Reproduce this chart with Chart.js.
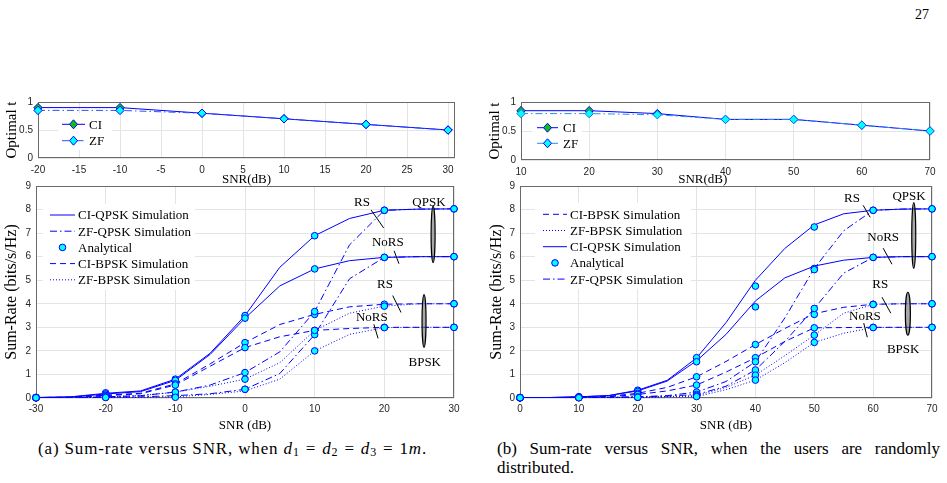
<!DOCTYPE html>
<html>
<head>
<meta charset="utf-8">
<script src="https://cdn.jsdelivr.net/npm/chart.js@4.4.1/dist/chart.umd.min.js"></script>
<style>
  html, body { margin: 0; padding: 0; background: #fff; }
  body { width: 947px; height: 483px; position: relative; overflow: hidden;
         font-family: "Liberation Serif", "Times New Roman", serif; color: #000; }
  canvas { position: absolute; }
  .txt { position: absolute; font-size: 17px; line-height: 19px; white-space: nowrap; }
  .eq { margin: 0 6px; }
  .sb { font-size: 12px; vertical-align: -2px; }
</style>
</head>
<body>
<div class="txt" style="left:915px; top:5px; font-size:14px;">27</div>

<canvas id="topA" width="470" height="100" style="left:0px; top:90px; width:470px; height:100px;"></canvas>
<canvas id="topB" width="467" height="100" style="left:480px; top:90px; width:467px; height:100px;"></canvas>
<canvas id="botA" width="470" height="262" style="left:0px; top:175px; width:470px; height:262px;"></canvas>
<canvas id="botB" width="467" height="262" style="left:480px; top:175px; width:467px; height:262px;"></canvas>

<div class="txt" style="left:38px; top:439px; letter-spacing:0.85px;">(a) Sum-rate versus SNR, when <i>d</i><span class="sb">1</span><span class="eq">=</span><i>d</i><span class="sb">2</span><span class="eq">=</span><i>d</i><span class="sb">3</span><span class="eq">=</span>1<i>m</i>.</div>
<div class="txt" style="left:497px; top:439px; width:443px; white-space:normal; text-align:justify; text-align-last:left;">(b) Sum-rate versus SNR, when the users are randomly distributed.</div>

<script>
// ---------- (a) d1 = d2 = d3 = 1 m ----------
const snrTopA = [-20, -10, 0, 10, 20, 30];
const tCiA = [0.9, 0.9, 0.8, 0.7, 0.6, 0.5];
const tZfA = [0.85, 0.85, 0.8, 0.7, 0.6, 0.5];
const snrTopTicksA = [-20, -15, -10, -5, 0, 5, 10, 15, 20, 25, 30];

const snrA = [-30, -25, -20, -15, -10, -5, 0, 5, 10, 15, 20, 25, 30];
const ciQpskRsA = [0.02, 0.05, 0.2, 0.3, 0.8, 1.9, 3.5, 5.55, 6.89, 7.62, 7.97, 8.02, 8.03];
const ciQpskNoA = [0.02, 0.04, 0.17, 0.27, 0.75, 1.85, 3.39, 4.76, 5.48, 5.83, 5.97, 6.0, 6.0];
const ciBpskRsA = [0.02, 0.03, 0.12, 0.2, 0.6, 1.45, 2.35, 3.12, 3.55, 3.87, 3.98, 4.0, 4.0];
const ciBpskNoA = [0.02, 0.03, 0.1, 0.18, 0.55, 1.35, 2.14, 2.6, 2.87, 2.95, 3.0, 3.0, 3.0];
const zfQpskRsA = [0.01, 0.02, 0.05, 0.1, 0.25, 0.55, 1.08, 1.96, 3.67, 6.5, 7.97, 8.02, 8.03];
const zfQpskNoA = [0.01, 0.01, 0.03, 0.05, 0.1, 0.18, 0.37, 1.04, 2.69, 5.06, 5.97, 6.0, 6.0];
const zfBpskRsA = [0.01, 0.02, 0.05, 0.1, 0.25, 0.5, 0.8, 1.5, 2.87, 3.6, 3.9, 4.0, 4.0];
const zfBpskNoA = [0.01, 0.01, 0.02, 0.03, 0.05, 0.15, 0.3, 0.8, 2.0, 2.7, 2.99, 3.0, 3.0];

const snrAnaA = [-30, -20, -10, 0, 10, 20, 30];
const anaCiQpskRsA = [0.02, 0.22, 0.8, 3.5, 6.89, 7.97, 8.03];
const anaCiQpskNoA = [0.02, 0.17, 0.75, 3.39, 5.48, 5.97, 6.0];
const anaCiBpskRsA = [0.02, 0.12, 0.6, 2.35, 3.55, 3.98, 4.0];
const anaCiBpskNoA = [0.02, 0.1, 0.55, 2.14, 2.87, 3.0, 3.0];
const anaZfQpskRsA = [0.01, 0.05, 0.25, 1.08, 3.67, 7.97, 8.03];
const anaZfQpskNoA = [0.01, 0.03, 0.1, 0.37, 2.69, 5.97, 6.0];
const anaZfBpskRsA = [0.01, 0.05, 0.25, 0.8, 2.87, 3.9, 4.0];
const anaZfBpskNoA = [0.01, 0.02, 0.03, 0.37, 2.0, 2.99, 3.0];
const snrTicksA = [-30, -20, -10, 0, 10, 20, 30];

// ---------- (b) users randomly distributed ----------
const snrTopB = [10, 20, 30, 40, 50, 60, 70];
const tCiB = [0.85, 0.85, 0.8, 0.7, 0.7, 0.6, 0.5];
const tZfB = [0.8, 0.8, 0.78, 0.7, 0.7, 0.6, 0.5];
const snrTopTicksB = [10, 20, 30, 40, 50, 60, 70];

const snrB = [0, 5, 10, 15, 20, 25, 30, 35, 40, 45, 50, 55, 60, 65, 70];
const ciQpskRsB = [0.02, 0.02, 0.05, 0.1, 0.33, 0.75, 1.7, 3.2, 5.0, 6.35, 7.35, 7.82, 7.97, 8.02, 8.03];
const ciQpskNoB = [0.02, 0.02, 0.05, 0.1, 0.3, 0.72, 1.58, 2.7, 4.12, 5.1, 5.6, 5.85, 5.97, 6.0, 6.0];
const ciBpskRsB = [0.01, 0.01, 0.03, 0.07, 0.2, 0.45, 0.9, 1.55, 2.27, 2.95, 3.58, 3.85, 3.98, 4.0, 4.0];
const ciBpskNoB = [0.01, 0.01, 0.03, 0.05, 0.15, 0.3, 0.55, 1.1, 1.71, 2.4, 2.98, 2.99, 3.0, 3.0, 3.0];
const zfQpskRsB = [0.01, 0.01, 0.02, 0.03, 0.05, 0.1, 0.25, 0.7, 1.54, 3.4, 5.5, 7.1, 7.97, 8.02, 8.03];
const zfQpskNoB = [0.01, 0.01, 0.02, 0.03, 0.04, 0.08, 0.15, 0.5, 1.19, 2.4, 3.8, 5.3, 5.97, 6.0, 6.0];
const zfBpskRsB = [0.01, 0.01, 0.02, 0.02, 0.03, 0.06, 0.1, 0.45, 0.97, 1.8, 2.67, 3.6, 3.97, 4.0, 4.0];
const zfBpskNoB = [0.01, 0.01, 0.01, 0.02, 0.03, 0.05, 0.06, 0.35, 0.76, 1.5, 2.36, 2.75, 2.99, 3.0, 3.0];

const snrAnaB = [0, 10, 20, 30, 40, 50, 60, 70];
const anaCiQpskRsB = [0.02, 0.05, 0.33, 1.71, 4.75, 7.26, 7.97, 8.03];
const anaCiQpskNoB = [0.02, 0.05, 0.28, 1.54, 3.87, 5.5, 5.97, 6.0];
const anaCiBpskRsB = [0.01, 0.03, 0.2, 0.9, 2.27, 3.55, 3.98, 4.0];
const anaCiBpskNoB = [0.01, 0.03, 0.15, 0.55, 1.71, 2.98, 3.0, 3.0];
const anaZfQpskRsB = [0.01, 0.02, 0.05, 0.25, 1.54, 5.45, 7.97, 8.03];
const anaZfQpskNoB = [0.01, 0.02, 0.04, 0.15, 1.19, 3.8, 5.97, 6.0];
const anaZfBpskRsB = [0.01, 0.02, 0.03, 0.1, 0.97, 2.67, 3.97, 4.0];
const anaZfBpskNoB = [0.01, 0.01, 0.03, 0.06, 0.76, 2.36, 2.99, 3.0];
const snrTicksB = [0, 10, 20, 30, 40, 50, 60, 70];

const rateTicks = [0, 1, 2, 3, 4, 5, 6, 7, 8, 9];
const tTicks = [0, 0.5, 1];

// ---------- styles ----------
const SERIF = '"Liberation Serif", "Times New Roman", serif';
const SANS = '"Liberation Sans", Arial, sans-serif';
const NARROW = '"Liberation Sans Narrow", "Liberation Sans", Arial, sans-serif';
const BLUE = '#0000ff';
const CYAN = '#00ffff';
const GREEN = '#10c010';
const GRID = '#e4e4e4';
const DASH = { solid: [], dash: [6, 4], dot: [1, 2], dashdot: [7, 3, 1.5, 3] };

function pts(xs, ys) { return xs.map((x, i) => ({ x: x, y: ys[i] })); }

function simLine(xs, ys, dash) {
  return { type: 'line', data: pts(xs, ys), borderColor: BLUE, borderWidth: 1,
           borderDash: dash, pointRadius: 0, tension: 0, fill: false, order: 1 };
}

function anaPoints(xs, list) {
  let d = [];
  list.forEach(ys => { d = d.concat(pts(xs, ys)); });
  return { type: 'scatter', data: d, pointRadius: 3.3, pointBackgroundColor: CYAN,
           pointBorderColor: BLUE, pointBorderWidth: 1, showLine: false, clip: false, order: 0 };
}

function fixedTicks(vals) {
  return s => { s.ticks = vals.map(v => ({ value: v })); };
}

// white axes, frame, legend and text marks, MATLAB style
const matlab = {
  id: 'matlab',
  beforeDraw(chart) {
    const a = chart.chartArea, ctx = chart.ctx;
    ctx.save();
    ctx.fillStyle = '#fff';
    ctx.fillRect(a.left, a.top, a.right - a.left, a.bottom - a.top);
    ctx.restore();
  },
  beforeDatasetsDraw(chart) {
    const a = chart.chartArea, ctx = chart.ctx;
    ctx.save();
    ctx.strokeStyle = '#6a6a6a';
    ctx.lineWidth = 1;
    ctx.strokeRect(a.left + 0.5, a.top + 0.5, a.right - a.left - 1, a.bottom - a.top - 1);
    ctx.restore();
  },
  afterDatasetsDraw(chart, args, opts) {
    const ctx = chart.ctx, xs = chart.scales.x, ys = chart.scales.y;
    ctx.save();
    ctx.strokeStyle = '#000';
    ctx.lineWidth = 1;
    (opts.marks || []).forEach(m => {
      ctx.beginPath();
      ctx.moveTo(xs.getPixelForValue(m[0]), ys.getPixelForValue(m[1]));
      ctx.lineTo(xs.getPixelForValue(m[2]), ys.getPixelForValue(m[3]));
      ctx.stroke();
    });
    (opts.ellipses || []).forEach(e => {
      const cx = xs.getPixelForValue(e.x), cy = ys.getPixelForValue(e.y);
      const ry = Math.abs(ys.getPixelForValue(e.y + e.h) - cy);
      ctx.beginPath();
      ctx.ellipse(cx, cy, e.w, ry, 0, 0, 2 * Math.PI);
      ctx.fillStyle = 'rgba(110,110,110,0.6)';
      ctx.fill();
      ctx.lineWidth = 1.2;
      ctx.stroke();
    });
    ctx.fillStyle = '#000';
    ctx.font = '13px ' + SERIF;
    ctx.textAlign = 'center';
    ctx.textBaseline = 'middle';
    (opts.labels || []).forEach(l => ctx.fillText(l.text, xs.getPixelForValue(l.x), ys.getPixelForValue(l.y)));
    ctx.restore();
  },
  afterDraw(chart, args, opts) {
    const lg = opts.legend;
    if (!lg) return;
    const a = chart.chartArea, ctx = chart.ctx;
    ctx.save();
    ctx.fillStyle = '#fff';
    ctx.fillRect(a.left + lg.box[0], a.top + lg.box[1], lg.box[2], lg.box[3]);
    ctx.font = lg.size + 'px ' + SERIF;
    ctx.textAlign = 'left';
    ctx.textBaseline = 'middle';
    lg.items.forEach((it, i) => {
      const y = a.top + lg.row0 + i * lg.gap;
      const x0 = a.left + lg.x0, x1 = a.left + lg.x1, xm = (x0 + x1) / 2;
      if (it.dash) {
        ctx.setLineDash(it.dash);
        ctx.strokeStyle = it.color || BLUE;
        ctx.lineWidth = 1;
        ctx.beginPath(); ctx.moveTo(x0, y); ctx.lineTo(x1, y); ctx.stroke();
        ctx.setLineDash([]);
      }
      if (it.marker === 'circle') {
        ctx.beginPath(); ctx.arc(xm, y, 3.3, 0, 2 * Math.PI);
        ctx.fillStyle = CYAN; ctx.fill();
        ctx.strokeStyle = BLUE; ctx.lineWidth = 1; ctx.stroke();
      } else if (it.marker === 'diamond') {
        ctx.beginPath();
        ctx.moveTo(xm, y - 4.5); ctx.lineTo(xm + 4, y); ctx.lineTo(xm, y + 4.5); ctx.lineTo(xm - 4, y);
        ctx.closePath();
        ctx.fillStyle = it.fill; ctx.fill();
        ctx.strokeStyle = BLUE; ctx.lineWidth = 1; ctx.stroke();
      }
      ctx.fillStyle = '#000';
      ctx.fillText(it.label, a.left + lg.tx, y + 1);
    });
    ctx.restore();
  }
};

function axisX(min, max, ticks, height, title, tickPad, titlePad, tickFont) {
  return {
    type: 'linear', min: min, max: max,
    afterBuildTicks: fixedTicks(ticks),
    afterFit: s => { s.height = height; },
    grid: { color: GRID, drawTicks: false },
    border: { display: false },
    ticks: { font: { family: tickFont, size: 10 }, color: '#262626', padding: tickPad, maxRotation: 0,
             autoSkip: false, callback: v => String(v) },
    title: { display: true, text: title, color: '#000', font: { family: SERIF, size: 13 },
             padding: { top: 0, bottom: titlePad } }
  };
}

function axisY(min, max, ticks, width, title, titleSize, titlePad) {
  return {
    min: min, max: max,
    afterBuildTicks: fixedTicks(ticks),
    afterFit: s => { s.width = width; },
    grid: { color: GRID, drawTicks: false },
    border: { display: false },
    ticks: { font: { family: SANS, size: 10 }, color: '#262626', padding: 5, callback: v => String(v) },
    title: { display: true, text: title, color: '#000', font: { family: SERIF, size: titleSize },
             padding: { top: titlePad, bottom: 0 } }
  };
}

function baseOptions(pad, scales, marks) {
  return {
    responsive: false, animation: false, events: [],
    layout: { padding: pad },
    plugins: { legend: { display: false }, tooltip: { enabled: false }, matlab: marks },
    scales: scales
  };
}

// ---------- top (a): optimal t ----------
new Chart(document.getElementById('topA'), {
  type: 'line',
  data: { datasets: [
    { data: pts(snrTopA, tZfA), borderColor: '#3050ff', borderWidth: 1, borderDash: DASH.dashdot,
      pointStyle: 'rectRot', pointRadius: 4.2, pointBackgroundColor: CYAN, pointBorderColor: BLUE,
      pointBorderWidth: 1, tension: 0, clip: false },
    { data: pts(snrTopA, tCiA), borderColor: BLUE, borderWidth: 1,
      pointStyle: 'rectRot', pointRadius: 4.2, pointBackgroundColor: GREEN, pointBorderColor: BLUE,
      pointBorderWidth: 1, tension: 0, clip: false }
  ] },
  options: baseOptions({ left: 0, top: 12, right: 15, bottom: 0 }, {
    x: axisX(-20, 30.85, snrTopTicksA, 32, 'SNR(dB)', 6, 3, SANS),
    y: axisY(0, 1, tTicks, 38, 'Optimal t', 15, 3)
  }, {
    legend: { box: [20, 11, 54, 37], x0: 24, x1: 47, tx: 51, row0: 22.3, gap: 16.4, size: 13,
      items: [
        { label: 'CI', dash: DASH.solid, marker: 'diamond', fill: GREEN },
        { label: 'ZF', dash: DASH.dashdot, color: '#3050ff', marker: 'diamond', fill: CYAN }
      ] }
  }),
  plugins: [matlab]
});

// ---------- top (b): optimal t ----------
new Chart(document.getElementById('topB'), {
  type: 'line',
  data: { datasets: [
    { data: pts(snrTopB, tZfB), borderColor: '#2a8ff0', borderWidth: 1, borderDash: DASH.dashdot,
      pointStyle: 'rectRot', pointRadius: 4.2, pointBackgroundColor: CYAN, pointBorderColor: '#1a6ff0',
      pointBorderWidth: 1, tension: 0, clip: false },
    { data: pts(snrTopB, tCiB), borderColor: BLUE, borderWidth: 1,
      pointStyle: 'rectRot', pointRadius: 4.2, pointBackgroundColor: GREEN, pointBorderColor: BLUE,
      pointBorderWidth: 1, tension: 0, clip: false }
  ] },
  options: baseOptions({ left: 0, top: 12, right: 17, bottom: 0 }, {
    x: axisX(10, 70, snrTopTicksB, 30, 'SNR(dB)' + '\u00a0'.repeat(14), 6, 3, SANS),
    y: axisY(0, 1, tTicks, 41, 'Optimal t', 15, 6)
  }, {
    legend: { box: [11, 14, 50, 37], x0: 16, x1: 37, tx: 42, row0: 25.7, gap: 15.6, size: 13,
      items: [
        { label: 'CI', dash: DASH.solid, marker: 'diamond', fill: GREEN },
        { label: 'ZF', dash: DASH.dashdot, color: '#2a8ff0', marker: 'diamond', fill: CYAN }
      ] }
  }),
  plugins: [matlab]
});

// ---------- bottom (a): sum-rate ----------
new Chart(document.getElementById('botA'), {
  type: 'line',
  data: { datasets: [
    anaPoints(snrAnaA, [anaCiQpskRsA, anaCiQpskNoA, anaCiBpskRsA, anaCiBpskNoA,
                        anaZfQpskRsA, anaZfQpskNoA, anaZfBpskRsA, anaZfBpskNoA]),
    simLine(snrA, ciQpskRsA, DASH.solid),
    simLine(snrA, ciQpskNoA, DASH.solid),
    simLine(snrA, ciBpskRsA, DASH.dash),
    simLine(snrA, ciBpskNoA, DASH.dash),
    simLine(snrA, zfQpskRsA, DASH.dashdot),
    simLine(snrA, zfQpskNoA, DASH.dashdot),
    simLine(snrA, zfBpskRsA, DASH.dot),
    simLine(snrA, zfBpskNoA, DASH.dot)
  ] },
  options: baseOptions({ left: 0, top: 10, right: 16, bottom: 0 }, {
    x: axisX(-30, 30, snrTicksA, 39, 'SNR (dB)', 5, 4, NARROW),
    y: axisY(0, 9, rateTicks, 36, 'Sum-Rate (bits/s/Hz)', 16, 2)
  }, {
    legend: { box: [7, 18, 152, 86], x0: 14, x1: 39, tx: 42, row0: 29, gap: 16.2, size: 13,
      items: [
        { label: 'CI-QPSK Simulation', dash: DASH.solid },
        { label: 'ZF-QPSK Simulation', dash: DASH.dashdot },
        { label: 'Analytical', marker: 'circle' },
        { label: 'CI-BPSK Simulation', dash: DASH.dash },
        { label: 'ZF-BPSK Simulation', dash: DASH.dot }
      ] },
    labels: [
      { text: 'RS', x: 16.8, y: 8.3 }, { text: 'QPSK', x: 26.4, y: 8.3 },
      { text: 'NoRS', x: 20.5, y: 6.6 }, { text: 'RS', x: 20.1, y: 4.8 },
      { text: 'NoRS', x: 18.2, y: 3.4 }, { text: 'BPSK', x: 25.8, y: 1.5 }
    ],
    marks: [
      [18.1, 7.98, 19.9, 7.22], [21.4, 6.25, 22.1, 5.7],
      [21.2, 4.35, 22.4, 3.63], [18.5, 3.13, 19.1, 2.53]
    ],
    ellipses: [ { x: 27.0, y: 6.95, w: 2, h: 1.2 }, { x: 25.7, y: 3.27, w: 2, h: 1.12 } ]
  }),
  plugins: [matlab]
});

// ---------- bottom (b): sum-rate ----------
new Chart(document.getElementById('botB'), {
  type: 'line',
  data: { datasets: [
    anaPoints(snrAnaB, [anaCiQpskRsB, anaCiQpskNoB, anaCiBpskRsB, anaCiBpskNoB,
                        anaZfQpskRsB, anaZfQpskNoB, anaZfBpskRsB, anaZfBpskNoB]),
    simLine(snrB, ciQpskRsB, DASH.solid),
    simLine(snrB, ciQpskNoB, DASH.solid),
    simLine(snrB, ciBpskRsB, DASH.dash),
    simLine(snrB, ciBpskNoB, DASH.dash),
    simLine(snrB, zfQpskRsB, DASH.dashdot),
    simLine(snrB, zfQpskNoB, DASH.dashdot),
    simLine(snrB, zfBpskRsB, DASH.dot),
    simLine(snrB, zfBpskNoB, DASH.dot)
  ] },
  options: baseOptions({ left: 0, top: 11, right: 15, bottom: 0 }, {
    x: axisX(0, 70, snrTicksB, 39, 'SNR (dB)', 5, 4, NARROW),
    y: axisY(0, 9, rateTicks, 40, 'Sum-Rate (bits/s/Hz)', 16, 7)
  }, {
    legend: { box: [15, 17, 156, 86], x0: 23, x1: 47, tx: 50, row0: 28.3, gap: 16.2, size: 13,
      items: [
        { label: 'CI-BPSK Simulation', dash: DASH.dash },
        { label: 'ZF-BPSK Simulation', dash: DASH.dot },
        { label: 'CI-QPSK Simulation', dash: DASH.solid },
        { label: 'Analytical', marker: 'circle' },
        { label: 'ZF-QPSK Simulation', dash: DASH.dashdot }
      ] },
    labels: [
      { text: 'RS', x: 56.4, y: 8.45 }, { text: 'QPSK', x: 66.1, y: 8.55 },
      { text: 'NoRS', x: 61.7, y: 6.8 }, { text: 'RS', x: 61.2, y: 4.8 },
      { text: 'NoRS', x: 58.6, y: 3.45 }, { text: 'BPSK', x: 65.1, y: 2.05 }
    ],
    marks: [
      [58.3, 8.18, 59.5, 7.67], [61.7, 6.36, 63.2, 5.68],
      [61.5, 4.28, 63.0, 3.6], [58.4, 3.18, 59.0, 2.58]
    ],
    ellipses: [ { x: 66.9, y: 6.9, w: 2, h: 1.4 }, { x: 65.9, y: 3.58, w: 2.5, h: 0.91 } ]
  }),
  plugins: [matlab]
});
</script>
</body>
</html>
